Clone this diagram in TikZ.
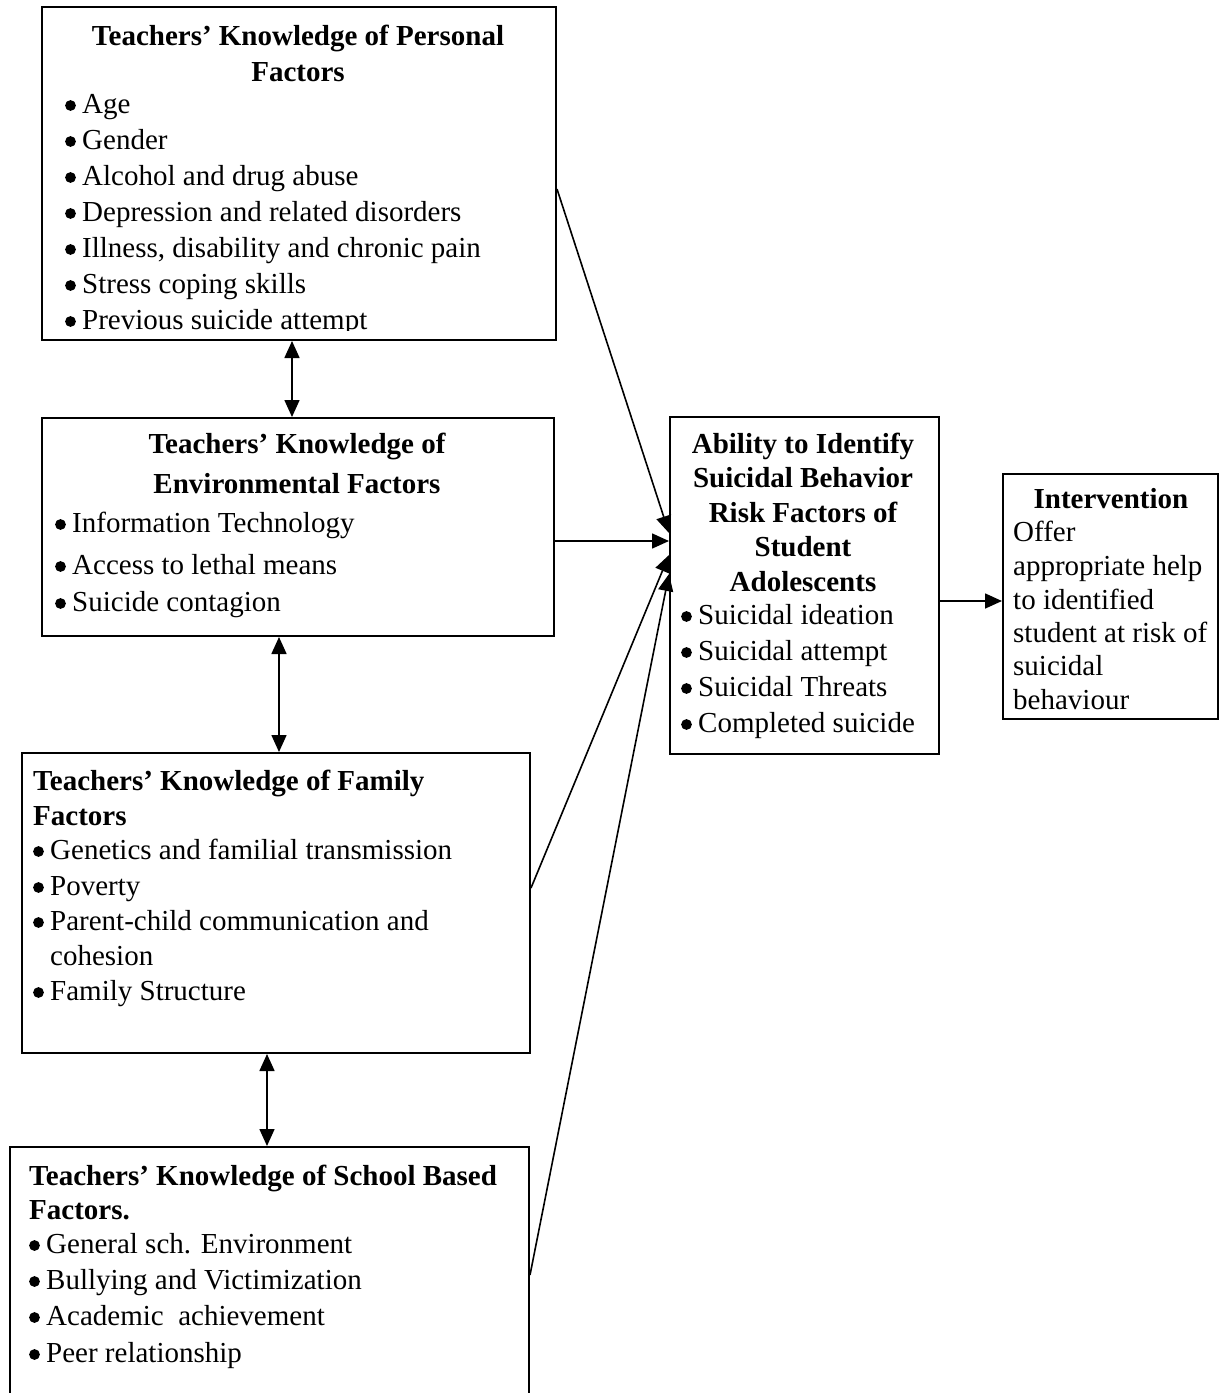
\documentclass[tikz,border=0pt]{standalone}
\usepackage{fontspec}
\setmainfont{Liberation Serif}
\usetikzlibrary{arrows.meta,calc}
\newcommand\itm[4]{\node[txt] (#1) at (#2,#3) {#4};
  \fill ($(#1.base west)+(-11.5,-7.5)$) circle (5.4pt);}
\begin{document}
\begin{tikzpicture}[x=1pt,y=-1pt,
  box/.style={draw,line width=2pt,inner sep=0pt,anchor=north west},
  txt/.style={inner sep=0pt,font=\fontsize{29}{36}\selectfont,anchor=base west},
  ttl/.style={inner sep=0pt,font=\fontsize{29}{36}\selectfont\bfseries,anchor=base},
  ttll/.style={inner sep=0pt,font=\fontsize{29}{36}\selectfont\bfseries,anchor=base west},
  arr/.style={line width=1.6pt,-{Triangle[length=17pt,width=15pt]}},
  darr/.style={line width=1.6pt,{Triangle[length=17pt,width=15pt]}-{Triangle[length=17pt,width=15pt]}}]
\clip (0,0) rectangle (1219,1393);
\fill[white] (0,0) rectangle (1219,1393);

% boxes
\node[box,minimum width=514pt,minimum height=333pt] (P) at (41,6) {};
\node[box,minimum width=512pt,minimum height=218pt] (E) at (41,417) {};
\node[box,minimum width=508pt,minimum height=300pt] (F) at (21,752) {};
\node[box,minimum width=519pt,minimum height=300pt] (S) at (9,1146) {};
\node[box,minimum width=269pt,minimum height=337pt] (A) at (669,416) {};
\node[box,minimum width=215pt,minimum height=245pt] (I) at (1002,473) {};

% personal
\begin{scope}
\clip (P.north west) rectangle ($(P.north east)+(0,324)$);
\node[ttl] (p0) at (298,45) {Teachers’ Knowledge of Personal};
\node[ttl] (p1) at (298,81) {Factors};
\itm{p2}{82}{113}{Age}
\itm{p3}{82}{149}{Gender}
\itm{p4}{82}{185}{Alcohol and drug abuse}
\itm{p5}{82}{221}{Depression and related disorders}
\itm{p6}{82}{257}{Illness, disability and chronic pain}
\itm{p7}{82}{293}{Stress coping skills}
\itm{p8}{82}{329}{Previous suicide attempt}
\end{scope}

% environmental
\node[ttl] (e0) at (297,453) {Teachers’ Knowledge of};
\node[ttl] (e1) at (297,493) {Environmental Factors};
\itm{e2}{72}{532}{Information Technology}
\itm{e3}{72}{574}{Access to lethal means}
\itm{e4}{72}{611}{Suicide contagion}

% family
\node[ttll] (f0) at (33,790) {Teachers’ Knowledge of Family};
\node[ttll] (f1) at (33,825) {Factors};
\itm{f2}{50}{859}{Genetics and familial transmission}
\itm{f3}{50}{895}{Poverty}
\itm{f4}{50}{930}{Parent-child communication and}
\node[txt] (f5) at (50,965) {cohesion};
\itm{f6}{50}{1000}{Family Structure}

% school
\node[ttll] (s0) at (29,1185) {Teachers’ Knowledge of School Based};
\node[ttll] (s1) at (29,1219) {Factors.};
\itm{s2}{46}{1253}{General sch. Environment}
\itm{s3}{46}{1289}{Bullying and Victimization}
\itm{s4}{46}{1325}{Academic~ achievement}
\itm{s5}{46}{1362}{Peer relationship}

% ability
\node[ttl] (a0) at (803,453) {Ability to Identify};
\node[ttl] (a1) at (803,487) {Suicidal Behavior};
\node[ttl] (a2) at (803,522) {Risk Factors of};
\node[ttl] (a3) at (803,556) {Student};
\node[ttl] (a4) at (803,591) {Adolescents};
\itm{a5}{698}{624}{Suicidal ideation}
\itm{a6}{698}{660}{Suicidal attempt}
\itm{a7}{698}{696}{Suicidal Threats}
\itm{a8}{698}{732}{Completed suicide}

% intervention
\node[ttl] (i0) at (1111,508) {Intervention};
\node[txt] (i1) at (1013,541) {Offer};
\node[txt] (i2) at (1013,575) {appropriate help};
\node[txt] (i3) at (1013,609) {to identified};
\node[txt] (i4) at (1013,642) {student at risk of};
\node[txt] (i5) at (1013,675) {suicidal};
\node[txt] (i6) at (1013,709) {behaviour};

% connectors
\draw[arr] ($(P.north east)+(0,183)$) -- ($(A.north west)+(0,117)$);
\draw[arr] ($(E.north east)+(0,124)$) -- ($(A.north west)+(0,125)$);
\draw[arr] ($(F.north east)+(0,136)$) -- ($(A.north west)+(0,139)$);
\draw[arr] ($(S.north east)+(0,129)$) -- ($(A.north west)+(0,158)$);
\draw[arr] ($(A.north east)+(0,185)$) -- ($(I.north west)+(0,128)$);
\draw[darr] ($(P.south west)+(251,0)$) -- ($(E.north west)+(251,0)$);
\draw[darr] ($(E.south west)+(238,0)$) -- ($(F.north west)+(258,0)$);
\draw[darr] ($(F.south west)+(246,0)$) -- ($(S.north west)+(258,0)$);
\end{tikzpicture}
\end{document}
